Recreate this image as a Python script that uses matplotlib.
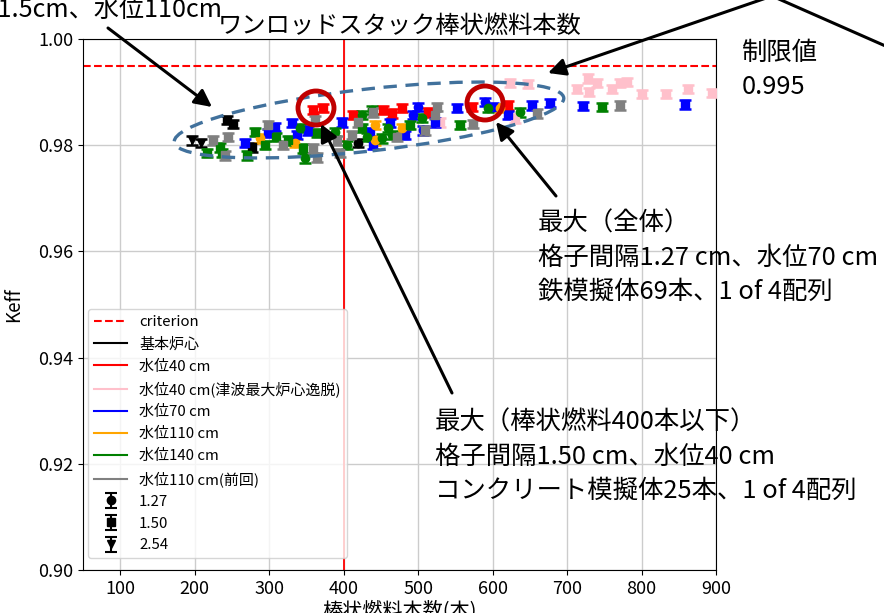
import numpy as np
import matplotlib
matplotlib.use("Agg")
import matplotlib.pyplot as plt
from matplotlib.patches import Ellipse, FancyArrowPatch
from matplotlib.lines import Line2D

plt.rcParams['font.family'] = ['Noto Sans CJK JP', 'DejaVu Sans']

# ---------------- data ----------------
series_labels = ["基本炉心", "水位40 cm", "水位40 cm(津波最大炉心逸脱)", "水位70 cm",
                 "水位110 cm", "水位140 cm", "水位110 cm(前回)"]
series_colors = ["black", "red", "pink", "blue", "orange", "green", "gray"]

base_x = [197, 209, 244, 252, 277, 419]
base_y = [0.9809, 0.9804, 0.9847, 0.9840, 0.9796, 0.9804]
base_p = [2.54, 2.54, 1.50, 1.50, 1.50, 1.27]

w40_x = [359, 372, 413, 453, 465, 479, 513, 572, 621]
w40_y = [0.9866, 0.9870, 0.9857, 0.9866, 0.9860, 0.9870, 0.9862, 0.9872, 0.9875]
w40_p = [1.50] * 9

tsu_x = [530, 623, 630, 648, 713, 728, 730, 740, 760, 771, 780, 801, 833, 862, 895]
tsu_y = [0.9843, 0.9917, 0.9850, 0.9915, 0.9906, 0.9926, 0.9900, 0.9917, 0.9906,
         0.9917, 0.9919, 0.9896, 0.9896, 0.9906, 0.9898]
tsu_p = [1.50] * 15

w70_x = [268, 299, 308, 331, 338, 352, 398, 436, 440, 462, 483, 493, 500, 507, 523,
         552, 590, 601, 621, 653, 677, 721, 858]
w70_y = [0.9804, 0.9823, 0.9834, 0.9842, 0.9819, 0.9828, 0.9843, 0.9825, 0.9800,
         0.9842, 0.9819, 0.9857, 0.9872, 0.9828, 0.9843, 0.9870, 0.9881, 0.9872,
         0.9857, 0.9875, 0.9879, 0.9874, 0.9877]
w70_p = [1.50, 1.50, 1.50, 1.50, 1.50, 1.50, 1.50, 1.50, 1.50, 1.50, 1.50, 1.27, 1.27,
         1.27, 1.50, 1.50, 1.27, 1.50, 1.50, 1.50, 1.50, 1.50, 1.50]

w110_x = [288, 335, 442, 442, 479, 610]
w110_y = [0.9813, 0.9804, 0.9838, 0.9809, 0.9832, 0.9870]
w110_p = [1.27] * 6

w140_x = [217, 234, 237, 270, 281, 295, 309, 325, 342, 346, 348, 364, 389, 405, 425,
          425, 438, 432, 452, 460, 465, 489, 505, 556, 594, 637, 747]
w140_y = [0.9785, 0.9796, 0.9785, 0.9781, 0.9825, 0.9800, 0.9815, 0.9809, 0.9832,
          0.9794, 0.9775, 0.9823, 0.9825, 0.9800, 0.9832, 0.9857, 0.9866, 0.9815,
          0.9813, 0.9832, 0.9819, 0.9838, 0.9851, 0.9838, 0.9870, 0.9862, 0.9872]
w140_p = [1.50, 1.50, 1.50, 1.50, 1.50, 1.50, 1.50, 1.50, 1.27, 1.50, 1.27, 1.50, 1.27,
          1.27, 1.50, 1.27, 1.27, 1.27, 1.27, 1.27, 1.27, 1.50, 1.27, 1.50, 1.27, 1.27, 1.50]

prev_x = [225, 245, 241, 299, 319, 359, 364, 391, 395, 419, 411, 362, 440, 525, 523,
          509, 472, 574, 660, 771]
prev_y = [0.9809, 0.9815, 0.9781, 0.9838, 0.9800, 0.9794, 0.9777, 0.9809, 0.9785,
          0.9843, 0.9819, 0.9847, 0.9862, 0.9872, 0.9857, 0.9828, 0.9815, 0.9840,
          0.9860, 0.9875]
prev_p = [1.50] * 20

all_x = [base_x, w40_x, tsu_x, w70_x, w110_x, w140_x, prev_x]
all_y = [base_y, w40_y, tsu_y, w70_y, w110_y, w140_y, prev_y]
all_p = [base_p, w40_p, tsu_p, w70_p, w110_p, w140_p, prev_p]

keff_err = 0.0008
criterion = 0.995
pitch_labels = ["1.27", "1.50", "2.54"]
pitch_markers = {1.27: "o", 1.50: "s", 2.54: "v"}

# ---------------- figure ----------------
W, H = 884, 613
fig = plt.figure(figsize=(W / 100, H / 100), dpi=100)
ax = fig.add_axes([83 / W, 1 - 570 / H, (716 - 83) / W, (570 - 39) / H])

ax.grid(True, color="#cccccc", linewidth=1.0, zorder=0)
ax.set_axisbelow(True)

ax.axhline(criterion, color="red", linestyle="--", linewidth=1.5, zorder=2)
ax.axvline(400, color="red", linewidth=1.3, zorder=2)

eb_kw = dict(linestyle="none", markersize=6, capsize=4, elinewidth=1.5, capthick=1.8, zorder=3)
for xs, ys, ps, col in zip(all_x, all_y, all_p, series_colors):
    xs = np.array(xs, float); ys = np.array(ys, float); ps = np.array(ps, float)
    for pv, mk in pitch_markers.items():
        m = ps == pv
        if m.any():
            ax.errorbar(xs[m], ys[m], yerr=keff_err, fmt=mk, color=col, ecolor=col, **eb_kw)

ax.set_xlim(50, 900)
ax.set_ylim(0.90, 1.00)
ax.set_xticks(np.arange(100, 901, 100))
ax.set_yticks(np.arange(0.90, 1.001, 0.02))
ax.set_yticklabels([f"{v:.2f}" for v in np.arange(0.90, 1.001, 0.02)])
ax.tick_params(labelsize=13)
ax.set_title("ワンロッドスタック棒状燃料本数", fontsize=17.5, pad=4)
ax.set_xlabel("棒状燃料本数(本)", fontsize=14.5, labelpad=2)
ax.set_ylabel("Keff", fontsize=13.5, labelpad=10)

# legend
handles = [Line2D([], [], color="red", linestyle="--", linewidth=1.5)]
labels = ["criterion"]
for lab, col in zip(series_labels, series_colors):
    handles.append(Line2D([], [], color=col, linewidth=1.5))
    labels.append(lab)
for pl in pitch_labels:
    h = ax.errorbar([np.nan], [np.nan], yerr=[0.001], fmt=pitch_markers[float(pl)],
                    color="black", markersize=6, capsize=4, elinewidth=1.5, capthick=1.5)
    handles.append(h)
    labels.append(pl)
leg = ax.legend(handles, labels, loc="lower left", fontsize=10.8, labelspacing=0.52,
                handlelength=2.2, borderaxespad=0.0, bbox_to_anchor=(0.008, 0.022),
                framealpha=0.8)

# ---------------- annotation overlay (pixel coords) ----------------
T = fig.dpi_scale_trans
def P(px, py):
    return (px / 100.0, (H - py) / 100.0)

ell = Ellipse(P(369, 120), 392 / 100, 62 / 100, angle=6.5, transform=T, fill=False,
              edgecolor="#41719C", linewidth=2.4, linestyle=(0, (4, 2.6)), zorder=10)
fig.add_artist(ell)
for cx, cy in [(316, 108), (485, 103)]:
    fig.add_artist(Ellipse(P(cx, cy), 36 / 100, 34 / 100, transform=T, fill=False,
                           edgecolor="#C00000", linewidth=3.5, zorder=11))

def arrow(a, b, head=True):
    st = "-|>" if head else "-"
    fig.add_artist(FancyArrowPatch(P(*a), P(*b), transform=T, arrowstyle=st,
                                   mutation_scale=26, linewidth=2.2, color="black",
                                   shrinkA=0, shrinkB=0, zorder=12))

arrow((108, 28), (212, 107))
arrow((772, -4), (548, 73))
arrow((772, -4), (890, 48), head=False)
arrow((556, 196), (496, 122))
arrow((452, 393), (321, 124))

txt_kw = dict(transform=T, color="black", zorder=13)
fig.text(*P(222, 17), "格子間隔1.5cm、水位110cm", ha="right", va="baseline",
         fontsize=18.1, **txt_kw)
fig.text(*P(742, 40), "制限値\n0.995", ha="left", va="top", linespacing=1.38,
         fontsize=18.3, **txt_kw)
fig.text(*P(538, 211), "最大（全体）\n格子間隔1.27 cm、水位70 cm\n鉄模擬体69本、1 of 4配列",
         ha="left", va="top", linespacing=1.4, fontsize=18.3, **txt_kw)
fig.text(*P(435, 410), "最大（棒状燃料400本以下）\n格子間隔1.50 cm、水位40 cm\nコンクリート模擬体25本、1 of 4配列",
         ha="left", va="top", linespacing=1.4, fontsize=18.3, **txt_kw)

fig.savefig("out.png", dpi=100)
